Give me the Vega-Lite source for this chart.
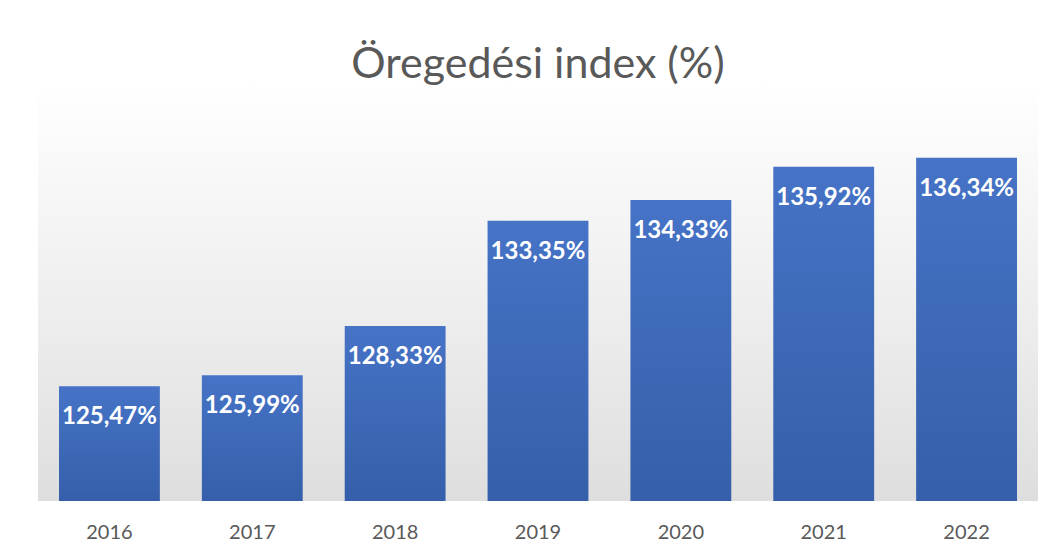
{
  "$schema": "https://vega.github.io/schema/vega-lite/v6.json",
  "width": 1000,
  "height": 420,
  "autosize": "none",
  "padding": {"left": 38, "top": 81, "right": 18, "bottom": 58},
  "background": "#ffffff",
  "title": {
    "text": "Öregedési index (%)",
    "font": "Lato",
    "fontSize": 43,
    "fontWeight": "normal",
    "color": "#595959",
    "baseline": "alphabetic",
    "anchor": "middle",
    "offset": 4,
    "dy": 44
  },
  "config": {"view": {"stroke": null}},
  "data": {
    "values": [
      {"year": "2016", "value": 125.47},
      {"year": "2017", "value": 125.99},
      {"year": "2018", "value": 128.33},
      {"year": "2019", "value": 133.35},
      {"year": "2020", "value": 134.33},
      {"year": "2021", "value": 135.92},
      {"year": "2022", "value": 136.34}
    ]
  },
  "transform": [
    {"calculate": "replace(format(datum.value, '.2f'), '.', ',') + '%'", "as": "label"}
  ],
  "encoding": {
    "x": {
      "field": "year",
      "type": "nominal",
      "scale": {"paddingInner": 0.294, "paddingOuter": 0.147},
      "axis": {
        "title": null,
        "domain": false,
        "ticks": false,
        "labelAngle": 0,
        "labelFont": "Lato",
        "labelFontSize": 20,
        "labelColor": "#595959",
        "labelPadding": 21
      }
    }
  },
  "layer": [
    {
      "mark": {
        "type": "rect",
        "color": {
          "gradient": "linear",
          "x1": 0, "y1": 0, "x2": 0, "y2": 1,
          "stops": [
            {"offset": 0, "color": "#ffffff"},
            {"offset": 0.6, "color": "#ececec"},
            {"offset": 1, "color": "#dedede"}
          ]
        }
      },
      "encoding": {"x": null}
    },
    {
      "mark": {
        "type": "bar",
        "color": {
          "gradient": "linear",
          "x1": 0, "y1": 0, "x2": 0, "y2": 1,
          "stops": [
            {"offset": 0, "color": "#4673C6"},
            {"offset": 1, "color": "#355FAA"}
          ]
        }
      },
      "encoding": {
        "y": {
          "field": "value",
          "type": "quantitative",
          "scale": {"domain": [120, 140], "zero": false, "nice": false},
          "axis": null
        },
        "y2": {"datum": 120}
      }
    },
    {
      "mark": {
        "type": "text",
        "color": "#ffffff",
        "font": "Lato",
        "fontWeight": "bold",
        "fontSize": 24,
        "baseline": "middle",
        "dy": 31
      },
      "encoding": {
        "y": {"field": "value", "type": "quantitative"},
        "text": {"field": "label"}
      }
    }
  ]
}
